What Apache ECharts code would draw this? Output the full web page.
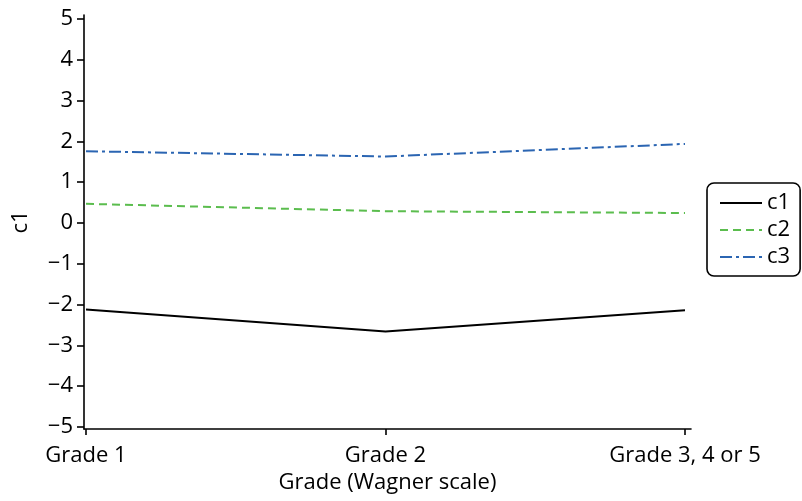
<!DOCTYPE html>
<html><head><meta charset="utf-8">
<script src="https://cdn.jsdelivr.net/npm/echarts@6/dist/echarts.min.js"></script>
<style>html,body{margin:0;padding:0;background:#fff}#c{width:802px;height:501px}</style>
</head><body><div id="c"></div>
<script>
const categories = ["Grade 1", "Grade 2", "Grade 3, 4 or 5"];
const c1 = [-2.12, -2.66, -2.14];
const c2 = [0.47, 0.29, 0.245];
const c3 = [1.76, 1.63, 1.94];
const yTicks = [-5, -4, -3, -2, -1, 0, 1, 2, 3, 4, 5];
const xTicks = [0, 1, 2];

const FONT = "Open Sans";
const FS = 22;
const toPts = arr => arr.map((v, i) => [i, v]);
const chart = echarts.init(document.getElementById('c'), null, {renderer: 'canvas'});
chart.setOption({
  animation: false,
  textStyle: {fontFamily: FONT},
  grid: {left: 84, right: 111, top: 15, bottom: 72, containLabel: false},
  xAxis: {
    type: 'value', min: -0.0067, max: 2.02,
    name: 'Grade (Wagner scale)', nameLocation: 'middle', nameGap: 43,
    nameTextStyle: {fontFamily: FONT, fontSize: FS, color: '#000'},
    axisLine: {show: true, onZero: false, lineStyle: {color: '#000', width: 1.6}},
    axisTick: {show: true, length: 6, inside: false, customValues: xTicks, lineStyle: {color: '#000', width: 1.6}},
    axisLabel: {customValues: xTicks, margin: 16, fontSize: FS, color: '#000', fontFamily: FONT,
      formatter: v => categories[Math.round(v)]},
    splitLine: {show: false}
  },
  yAxis: {
    type: 'value', min: -5.05, max: 5.1,
    name: 'c1', nameLocation: 'middle', nameGap: 52,
    nameTextStyle: {fontFamily: FONT, fontSize: FS, color: '#000'},
    axisLine: {show: true, onZero: false, lineStyle: {color: '#000', width: 1.6}},
    axisTick: {show: true, length: 7, customValues: yTicks, lineStyle: {color: '#000', width: 1.6}},
    axisLabel: {customValues: yTicks, margin: 11, fontSize: FS, color: '#000', fontFamily: FONT,
      formatter: v => (v < 0 ? '\u2212' + Math.abs(v) : String(v))},
    splitLine: {show: false}
  },
  legend: {
    orient: 'vertical', left: 707, top: 183,
    itemWidth: 42, itemHeight: 14, itemGap: 5,
    padding: [9, 10, 8, 12],
    borderColor: '#000', borderWidth: 1.6, borderRadius: 7,
    itemStyle: {opacity: 0},
    textStyle: {fontSize: FS, color: '#000', fontFamily: FONT},
    data: ['c1', 'c2', 'c3']
  },
  series: [
    {name: 'c1', type: 'line', data: toPts(c1), symbol: 'none',
      lineStyle: {color: '#000', width: 2, type: 'solid'}, itemStyle: {color: '#000'}},
    {name: 'c2', type: 'line', data: toPts(c2), symbol: 'none',
      lineStyle: {color: '#5bbd4e', width: 2, type: [8, 5]}, itemStyle: {color: '#5bbd4e'}},
    {name: 'c3', type: 'line', data: toPts(c3), symbol: 'none',
      lineStyle: {color: '#2b65b2', width: 2, type: [12, 4, 3, 4]}, itemStyle: {color: '#2b65b2'}}
  ]
});
</script></body></html>
